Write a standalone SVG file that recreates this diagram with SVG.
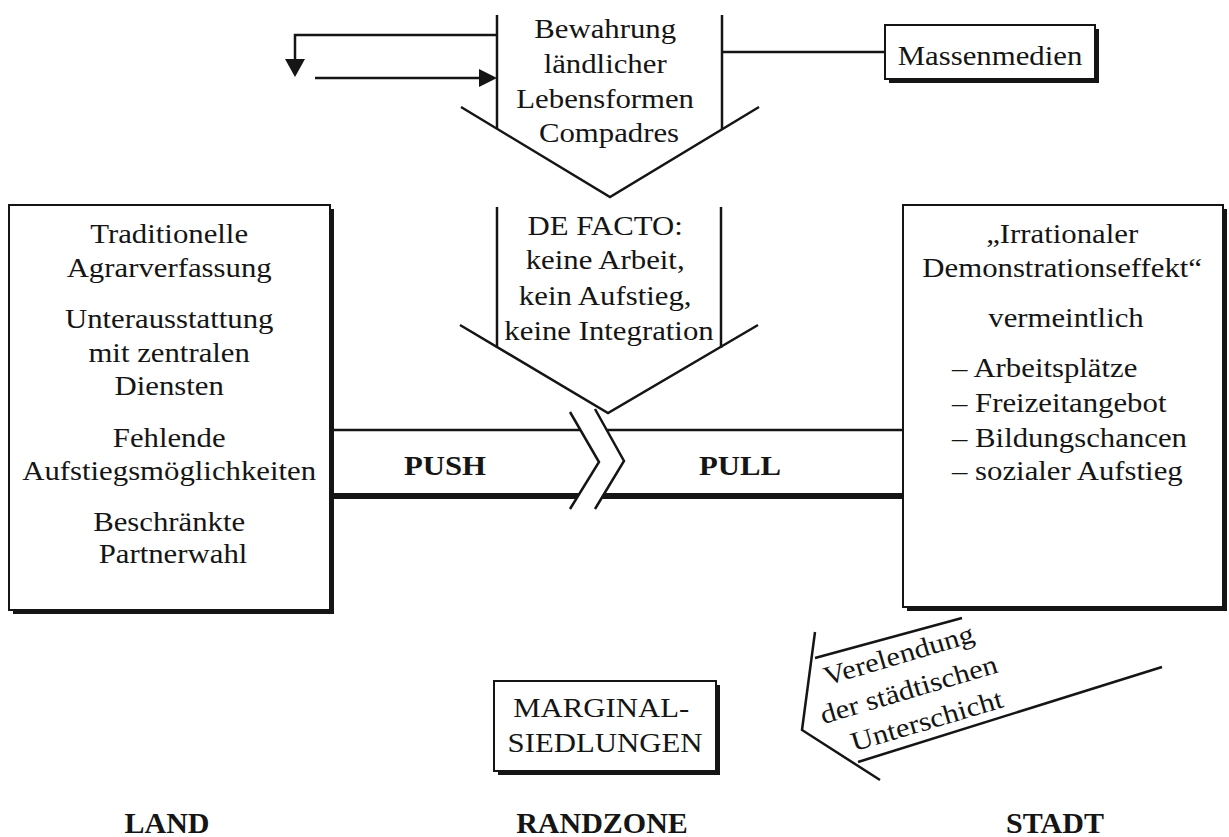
<svg xmlns="http://www.w3.org/2000/svg" width="1229" height="837" viewBox="0 0 1229 837">
<style>
.t{font-family:"Liberation Serif","Times New Roman",serif;font-size:27px;fill:#151515}
.bd{font-weight:bold}
.ln{stroke:#151515;stroke-width:2.5;fill:none;stroke-linejoin:miter}
.box{fill:#fff;stroke:#151515;stroke-width:2}
.sh{fill:#151515}
.ah{fill:#151515}
</style>
<rect width="1229" height="837" fill="#fff"/>

<g id="connectors">
  <polyline class="ln" points="497,35 295,35 295,60"/>
  <polygon class="ah" points="285,59 305,59 295,77"/>
  <line class="ln" x1="315" y1="78" x2="481" y2="78"/>
  <polygon class="ah" points="479,69 479,87 497,78"/>
  <line class="ln" x1="722" y1="52" x2="885" y2="52"/>
</g>

<g id="node-bewahrung">
  <line class="ln" x1="497" y1="15" x2="497" y2="129"/>
  <line class="ln" x1="722" y1="15" x2="722" y2="129"/>
  <polyline class="ln" points="461,107 610,197 759,107"/>
  <text class="t" text-anchor="middle" transform="translate(609 0) scale(1.14 1)">
    <tspan x="0" y="38">Bewahrung</tspan>
    <tspan x="0" y="73">ländlicher</tspan>
    <tspan x="0" y="108">Lebensformen</tspan>
    <tspan x="0" y="142">Compadres</tspan>
  </text>
</g>

<g id="node-defacto">
  <line class="ln" x1="497" y1="207" x2="497" y2="348"/>
  <line class="ln" x1="721" y1="207" x2="721" y2="348"/>
  <polyline class="ln" points="460,325 608,413 758,325"/>
  <text class="t" text-anchor="middle" transform="translate(609 0) scale(1.14 1)">
    <tspan x="0" y="235">DE FACTO:</tspan>
    <tspan x="0" y="269">keine Arbeit,</tspan>
    <tspan x="0" y="305">kein Aufstieg,</tspan>
    <tspan x="0" y="340">keine Integration</tspan>
  </text>
</g>

<g id="node-massenmedien">
  <rect class="sh" x="889" y="29" width="210" height="54"/>
  <rect class="box" x="885" y="25" width="210" height="54"/>
  <text class="t" text-anchor="middle" transform="translate(990 0) scale(1.14 1)"><tspan x="0" y="65">Massenmedien</tspan></text>
</g>

<g id="band">
  <line class="ln" x1="333" y1="430" x2="903" y2="430"/>
  <line class="ln" x1="333" y1="496" x2="903" y2="496" style="stroke-width:6"/>
  <polygon fill="#fff" points="570,412 599,463 570,509 595,509 624,461 595,409"/>
  <polyline class="ln" points="570,412 599,462 570,509"/>
  <polyline class="ln" points="595,409 624,461 595,509"/>
  <text class="t bd" text-anchor="middle" transform="translate(445 0) scale(1.14 1)"><tspan x="0" y="475">PUSH</tspan></text>
  <text class="t bd" text-anchor="middle" transform="translate(740 0) scale(1.14 1)"><tspan x="0" y="475">PULL</tspan></text>
</g>

<g id="node-land">
  <rect class="sh" x="13" y="209" width="321" height="405"/>
  <rect class="box" x="9" y="205" width="321" height="405"/>
  <text class="t" text-anchor="middle" transform="translate(173 0) scale(1.14 1)">
    <tspan x="0" y="243">Traditionelle</tspan>
    <tspan x="0" y="277">Agrarverfassung</tspan>
    <tspan x="0" y="328">Unterausstattung</tspan>
    <tspan x="0" y="362">mit zentralen</tspan>
    <tspan x="0" y="395">Diensten</tspan>
    <tspan x="0" y="447">Fehlende</tspan>
    <tspan x="0" y="480">Aufstiegsmöglichkeiten</tspan>
    <tspan x="0" y="531">Beschränkte</tspan>
    <tspan x="0" y="563">Partnerwahl</tspan>
  </text>
</g>

<g id="node-stadt">
  <rect class="sh" x="907" y="209" width="320" height="402"/>
  <rect class="box" x="903" y="205" width="320" height="402"/>
  <text class="t" text-anchor="middle" transform="translate(1066 0) scale(1.14 1)">
    <tspan x="0" y="243">„Irrationaler</tspan>
    <tspan x="0" y="277">Demonstrationseffekt“</tspan>
    <tspan x="0" y="327">vermeintlich</tspan>
  </text>
  <text class="t" transform="translate(952 0) scale(1.14 1)">
    <tspan x="0" y="377">– Arbeitsplätze</tspan>
    <tspan x="0" y="412">– Freizeitangebot</tspan>
    <tspan x="0" y="447">– Bildungschancen</tspan>
    <tspan x="0" y="480">– sozialer Aufstieg</tspan>
  </text>
</g>

<g id="node-verelendung">
  <line class="ln" x1="815" y1="658" x2="962" y2="618"/>
  <line class="ln" x1="858" y1="762" x2="1162" y2="667"/>
  <polyline class="ln" points="815,632 802,730 880,780"/>
  <text class="t" text-anchor="middle" transform="translate(915 697) rotate(-16.5) scale(1.14 1)">
    <tspan x="0" y="-36">Verelendung</tspan>
    <tspan x="0" y="0">der städtischen</tspan>
    <tspan x="4" y="35">Unterschicht</tspan>
  </text>
</g>

<g id="node-marginal">
  <rect class="sh" x="498" y="685" width="222" height="90"/>
  <rect class="box" x="494" y="681" width="222" height="90"/>
  <text class="t" text-anchor="middle" transform="translate(605 0) scale(1.14 1)">
    <tspan x="0" y="717">MARGINAL-</tspan>
    <tspan x="0" y="752">SIEDLUNGEN</tspan>
  </text>
</g>

<g id="zone-labels">
  <text class="t bd" text-anchor="middle" x="167" y="833" style="font-size:30px">LAND</text>
  <text class="t bd" text-anchor="middle" x="602" y="833" style="font-size:30px">RANDZONE</text>
  <text class="t bd" text-anchor="middle" x="1055" y="833" style="font-size:30px">STADT</text>
</g>
</svg>
